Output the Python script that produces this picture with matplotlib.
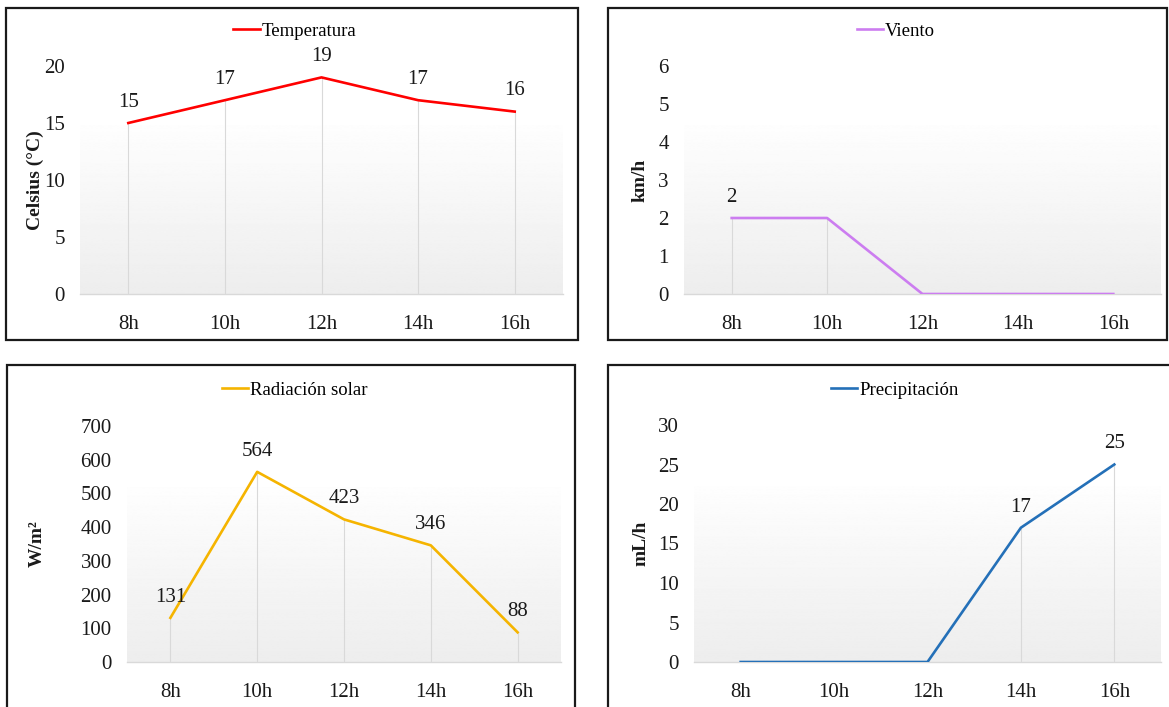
import numpy as np
import matplotlib
matplotlib.use("Agg")
import matplotlib.pyplot as plt
from matplotlib.patches import Rectangle

plt.rcParams['font.family'] = ['Liberation Serif', 'DejaVu Serif']

# datos
horas = ['8h', '10h', '12h', '14h', '16h']
temperatura = [15, 17, 19, 17, 16]
viento = [2, 2, 0, 0, 0]
radiacion = [131, 564, 423, 346, 88]
precipitacion = [0, 0, 0, 17, 25]

# que puntos llevan etiqueta
etiq_temp = [True, True, True, True, True]
etiq_viento = [True, False, False, False, False]
etiq_rad = [True, True, True, True, True]
etiq_prec = [False, False, False, True, True]

W, H = 1169, 707
fig = plt.figure(figsize=(W / 100, H / 100), dpi=100)


def fx(px):
    return px / W


def fy(py):
    return 1 - py / H


def panel(box, axpos, vals, etiq, color, nombre, ylabel, ymax, ystep, leg_xy, ylab_x):
    # marco negro del panel
    x0, y0, x1, y1 = box
    fig.add_artist(Rectangle((fx(x0), fy(y1)), fx(x1 - x0), fy(y0) - fy(y1),
                             transform=fig.transFigure, fill=False,
                             edgecolor='#1a1a1a', lw=1.6, zorder=0))
    l, t, r, b = axpos
    ax = fig.add_axes([fx(l), fy(b), fx(r - l), fy(t) - fy(b)])
    ax.set_facecolor('white')
    x = np.arange(len(vals))

    # fondo degradado del area de trazado
    grad = np.linspace(0.93, 0.995, 256).reshape(-1, 1)
    ax.imshow(grad, cmap='gray', vmin=0, vmax=1, origin='lower', aspect='auto',
              extent=(-0.5, len(vals) - 0.5, 0, ymax * 0.74), zorder=0)

    ax.vlines(x, 0, vals, color='#d9d9d9', lw=0.8, zorder=1)
    ax.plot(x, vals, color=color, lw=1.9, label=nombre, zorder=3,
            solid_joinstyle='round')
    for xi, v, e in zip(x, vals, etiq):
        if e:
            ax.annotate(str(v), (xi, v), xytext=(0, 8), textcoords='offset points',
                        ha='center', va='bottom', fontsize=15, color='#1a1a1a')

    ax.set_xlim(-0.5, len(vals) - 0.5)
    ax.set_ylim(0, ymax)
    ax.set_xticks(x)
    ax.set_xticklabels(horas)
    ax.set_yticks(np.arange(0, ymax + ystep / 2, ystep))
    ax.tick_params(axis='both', length=0, labelsize=15, colors='#1a1a1a')
    ax.tick_params(axis='x', pad=15)
    ax.tick_params(axis='y', pad=11)
    for s in ['top', 'right', 'left']:
        ax.spines[s].set_visible(False)
    ax.spines['bottom'].set_color('#d9d9d9')
    ax.spines['bottom'].set_linewidth(1.0)

    ax.set_ylabel(ylabel, fontsize=14, fontweight='bold', color='#1a1a1a')
    ax.yaxis.set_label_coords((ylab_x - l) / (r - l), 0.5)

    ax.legend(loc='center', bbox_to_anchor=(fx(leg_xy[0]), fy(leg_xy[1])),
              bbox_transform=fig.transFigure, frameon=False, fontsize=13.5,
              handlelength=1.4, handletextpad=0.12, borderaxespad=0)
    return ax


panel((6, 8, 578, 340), (80, 66, 563, 294), temperatura, etiq_temp, '#ff0000',
      'Temperatura', 'Celsius (°C)', 20, 5, (295, 31), 44)
panel((608, 8, 1167, 340), (684, 66, 1161, 294), viento, etiq_viento, '#cc7df0',
      'Viento', 'km/h', 6, 1, (896, 31), 649)
panel((7, 365, 575, 740), (127, 426, 561, 662), radiacion, etiq_rad, '#f5b400',
      'Radiación solar', 'W/m²', 700, 100, (295, 390), 46)
panel((608, 365, 1190, 740), (694, 425, 1161, 662), precipitacion, etiq_prec, '#2470b8',
      'Precipitación', 'mL/h', 30, 5, (895, 390), 649)

fig.savefig('out.png', dpi=100)
